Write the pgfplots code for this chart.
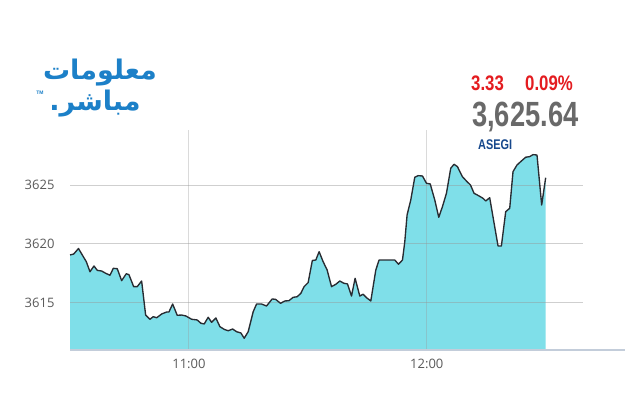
\documentclass[border=0pt]{standalone}
\usepackage{fontspec}
\usepackage{pgfplots}
\usepackage{pgfplotstable}
\pgfplotsset{compat=1.18}
\setmainfont{Open Sans}
\newfontfamily\arial{Liberation Sans}
\newfontfamily\arabicfont[Script=Arabic]{DejaVu Sans}
\TeXXeTstate=1
\definecolor{fillc}{RGB}{127,223,233}
\definecolor{linec}{RGB}{40,44,50}
\definecolor{gridc}{RGB}{150,150,150}
\definecolor{basec}{RGB}{195,205,218}
\definecolor{tickc}{RGB}{90,90,90}
\definecolor{redc}{RGB}{228,28,32}
\definecolor{bigc}{RGB}{105,105,105}
\definecolor{asegic}{RGB}{22,72,140}
\definecolor{logoc}{RGB}{28,128,200}

\pgfplotstableread{
t v
0 3619.06
0.93 3619.14
2.14 3619.61
3.10 3619.06
4.11 3618.49
5.04 3617.63
6.05 3618.12
6.88 3617.75
7.99 3617.69
9.00 3617.50
10.08 3617.33
10.92 3617.92
11.92 3617.89
13.03 3616.87
14.19 3617.46
14.87 3617.38
16.06 3616.36
16.96 3616.36
18.07 3616.84
19.08 3613.94
20.17 3613.58
21.00 3613.80
21.86 3613.71
23.12 3614.03
24.38 3614.20
24.96 3614.20
25.89 3614.88
27.05 3613.92
28.16 3613.94
29.24 3613.86
30.68 3613.58
32.09 3613.52
33.02 3613.24
33.85 3613.18
34.86 3613.75
35.72 3613.32
36.80 3613.69
37.81 3612.95
38.90 3612.72
39.90 3612.60
41.01 3612.75
42.02 3612.52
43.11 3612.41
43.94 3611.96
44.95 3612.52
46.21 3614.22
47.06 3614.88
48.32 3614.88
49.58 3614.71
51.00 3615.31
51.85 3615.28
53.11 3614.94
54.20 3615.14
55.21 3615.16
56.29 3615.45
57.30 3615.50
58.23 3615.79
59.06 3616.36
60.07 3616.70
61.13 3618.59
62.01 3618.63
62.84 3619.34
63.85 3618.49
64.86 3617.78
65.97 3616.36
67.05 3616.56
68.06 3616.84
69.07 3616.65
70.00 3616.59
71.01 3615.56
71.92 3617.07
73.10 3615.56
73.94 3615.71
74.79 3615.42
75.88 3615.14
77.14 3617.78
77.97 3618.63
78.98 3618.63
81.93 3618.63
82.86 3618.27
83.87 3618.63
84.45 3620.19
85.03 3622.47
85.96 3623.75
86.97 3625.68
87.80 3625.82
88.91 3625.79
89.92 3625.17
90.87 3625.11
92.01 3623.75
93.02 3622.27
93.95 3623.18
94.96 3624.32
96.04 3626.45
96.87 3626.79
97.73 3626.59
98.99 3625.73
100.15 3625.31
101.01 3625.03
101.92 3624.32
103.18 3624.09
104.18 3623.89
104.87 3623.66
105.87 3623.94
107.13 3621.47
107.97 3619.83
108.82 3619.83
109.91 3622.75
110.92 3623.04
111.75 3626.16
112.76 3626.73
113.87 3627.07
114.95 3627.39
115.96 3627.44
116.79 3627.61
117.80 3627.58
118.98 3623.32
119.99 3625.64
}\data

\begin{document}
\begin{tikzpicture}[x=1pt,y=1pt]
\fill[white] (0,0) rectangle (640,400);
\useasboundingbox (0,0) rectangle (640,400);
\begin{axis}[
  at={(70pt,50pt)}, anchor=south west,
  scale only axis, width=555pt, height=220pt,
  xmin=0, xmax=140, ymin=3610.96, ymax=3629.71,
  axis line style={draw=none},
  tick style={draw=none},
  xtick={30,90}, xticklabels={11:00,12:00},
  ytick={3615,3620,3625},
  /pgf/number format/assume math mode=true,
  /pgf/number format/1000 sep={},
  ticklabel style={font=\fontsize{13}{15}\selectfont, text=tickc},
  yticklabel style={xshift=-12pt},
  xticklabel style={yshift=-6pt},
  clip=false,
]
\addplot[draw=none, fill=fillc] table[x=t,y=v] {\data} |- (axis cs:0,3610.96) -- cycle;
\draw[gridc, opacity=0.45, line width=0.9pt] (axis cs:0,3615) -- (axis cs:129.3,3615);
\draw[gridc, opacity=0.45, line width=0.9pt] (axis cs:0,3620) -- (axis cs:129.3,3620);
\draw[gridc, opacity=0.45, line width=0.9pt] (axis cs:0,3625) -- (axis cs:129.3,3625);
\draw[gridc, opacity=0.35, line width=0.9pt] (axis cs:30,3610.96) -- (axis cs:30,3629.71);
\draw[gridc, opacity=0.35, line width=0.9pt] (axis cs:90,3610.96) -- (axis cs:90,3629.71);
\draw[basec, line width=1.4pt] (axis cs:0,3610.96) -- (axis cs:140,3610.96);
\addplot[linec, line width=1.35pt, line join=round] table[x=t,y=v] {\data};
\end{axis}
% header texts
\node[anchor=base west, inner sep=0, text=redc] at (471,310) {\scalebox{0.8}[1]{\fontsize{21}{24}\arial\bfseries 3.33}};
\node[anchor=base west, inner sep=0, text=redc] at (525,310) {\scalebox{0.8}[1]{\fontsize{21}{24}\arial\bfseries 0.09\%}};
\node[anchor=base west, inner sep=0, text=bigc] at (472,273.3) {\scalebox{0.78}[1]{\fontsize{35}{40}\arial\bfseries 3,625.64}};
\node[anchor=base west, inner sep=0, text=asegic] at (478,250.7) {\scalebox{0.78}[1]{\fontsize{14}{16}\arial\bfseries ASEGI}};
% logo
\node[text=logoc, anchor=center] at (100,327) {\fontsize{27}{30}\arabicfont\bfseries\beginR معلومات\endR};
\node[text=logoc, anchor=center] at (95,296) {\fontsize{27}{30}\arabicfont\bfseries\beginR مباشر.\endR};
\node[text=logoc, anchor=center] at (40,307) {\fontsize{5}{6}\arial\bfseries TM};
\end{tikzpicture}
\end{document}
